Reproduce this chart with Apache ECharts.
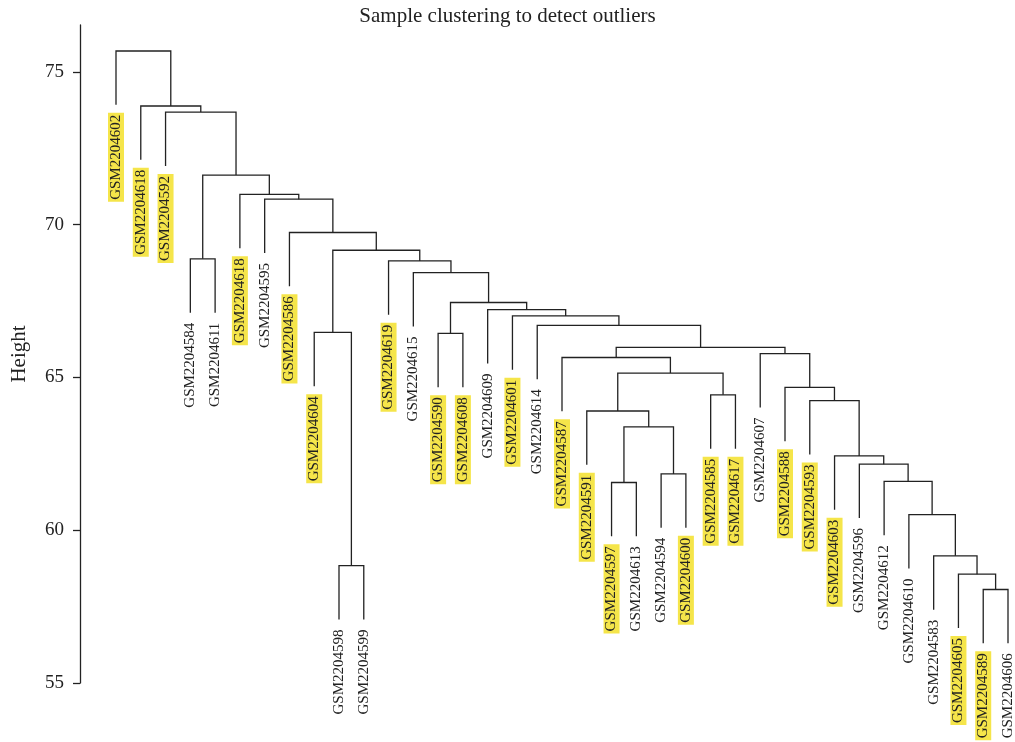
<!DOCTYPE html>
<html>
<head>
<meta charset="utf-8">
<title>Sample clustering to detect outliers</title>
<script src="https://cdn.jsdelivr.net/npm/echarts@6/dist/echarts.min.js"></script>
<style>
  html, body { margin: 0; padding: 0; background: #fff; }
  #chart { width: 1015px; height: 742px; }
</style>
</head>
<body>
<div id="chart"></div>
<script>
// Leaf order along the bottom of the dendrogram
const leafNames = [
  'GSM2204602', 'GSM2204618', 'GSM2204592', 'GSM2204584', 'GSM2204611',
  'GSM2204618', 'GSM2204595', 'GSM2204586', 'GSM2204604', 'GSM2204598',
  'GSM2204599', 'GSM2204619', 'GSM2204615', 'GSM2204590', 'GSM2204608',
  'GSM2204609', 'GSM2204601', 'GSM2204614', 'GSM2204587', 'GSM2204591',
  'GSM2204597', 'GSM2204613', 'GSM2204594', 'GSM2204600', 'GSM2204585',
  'GSM2204617', 'GSM2204607', 'GSM2204588', 'GSM2204593', 'GSM2204603',
  'GSM2204596', 'GSM2204612', 'GSM2204610', 'GSM2204583', 'GSM2204605',
  'GSM2204589', 'GSM2204606'
];
// 1 = sample label is highlighted
const leafHighlight = [
  1, 1, 1, 0, 0, 1, 0, 1, 1, 0, 0, 1, 0, 1, 1, 0, 1, 0, 1, 1,
  1, 0, 0, 1, 1, 1, 0, 1, 1, 1, 0, 0, 0, 0, 1, 1, 0
];

// hclust-style merge table: negative = leaf (-(index+1)), positive = earlier merge step (1-based)
const mergeLeft = [
  -36, -35, -10, -34, -33, -21, -32, -23, -31, -30,
    6, -20, -29, -25, -28,  12, -19, -27,  17, -14,
   -9, -18, -17, -16,  20, -13, -12,  -4,  21,  -8,
   -7,  -6,  28,  -3,  -2,  -1
];
const mergeRight = [
  -37,   1, -11,   2,   4, -22,   5, -24,   7,   9,
    8,  11,  10, -26,  13,  14,  16,  15,  18, -15,
    3,  19,  22,  23,  24,  25,  26,  -5,  27,  29,
   30,  31,  32,  33,  34,  35
];
const mergeHeight = [
  58.06, 58.56, 58.84, 59.16, 60.51, 61.56, 61.60, 61.84, 62.16, 62.43,
  63.38, 63.90, 64.24, 64.43, 64.67, 65.14, 65.65, 65.78, 65.98, 66.44,
  66.47, 66.70, 67.01, 67.22, 67.45, 68.43, 68.81, 68.88, 69.16, 69.74,
  70.83, 70.99, 71.62, 73.68, 73.88, 75.68
];

const yTicks = [55, 60, 65, 70, 75];

// Leaves hang below their parent by 10% of the height range
const hang = 0.1 * (Math.max(...mergeHeight) - Math.min(...mergeHeight));

// Positions of every node in data units (x = leaf slot, y = height)
const nodeX = [];
const leafX = leafNames.map((_, i) => i);
const leafTop = new Array(leafNames.length).fill(0);
function childX(ref) { return ref < 0 ? leafX[-ref - 1] : nodeX[ref - 1]; }
mergeHeight.forEach((h, k) => {
  nodeX[k] = (childX(mergeLeft[k]) + childX(mergeRight[k])) / 2;
  [mergeLeft[k], mergeRight[k]].forEach(ref => {
    if (ref < 0) leafTop[-ref - 1] = h - hang;
  });
});
function childY(ref) { return ref < 0 ? leafTop[-ref - 1] : mergeHeight[ref - 1]; }

const branchData = mergeHeight.map((h, k) => [
  childX(mergeLeft[k]), childY(mergeLeft[k]),
  childX(mergeRight[k]), childY(mergeRight[k]), h
]);
const leafData = leafNames.map((name, i) => [leafX[i], leafTop[i], leafHighlight[i]]);

const serif = '"Liberation Serif", "DejaVu Serif", serif';
const chart = echarts.init(document.getElementById('chart'), null, { renderer: 'canvas' });

chart.setOption({
  backgroundColor: '#ffffff',
  animation: false,
  title: {
    text: 'Sample clustering to detect outliers',
    left: 'center',
    top: 1,
    textStyle: { fontFamily: serif, fontWeight: 'normal', fontSize: 21, color: '#222' }
  },
  grid: { left: 116, right: 7, top: 25, bottom: 59, containLabel: false },
  xAxis: {
    type: 'value', min: 0, max: leafNames.length - 1,
    show: false
  },
  yAxis: {
    type: 'value', min: 55, max: 76.53,
    offset: 36,
    name: 'Height',
    nameLocation: 'middle',
    nameGap: 50,
    nameTextStyle: { fontFamily: serif, fontSize: 21, color: '#222' },
    splitLine: { show: false },
    axisLine: { show: true, onZero: false, lineStyle: { color: '#222', width: 1.3 } },
    axisTick: { show: true, length: 7, customValues: yTicks, lineStyle: { color: '#222', width: 1.3 } },
    axisLabel: {
      customValues: yTicks, margin: 16,
      fontFamily: serif, fontSize: 19, color: '#222'
    }
  },
  series: [
    {
      name: 'branches',
      type: 'custom',
      clip: false,
      data: branchData,
      renderItem: function (params, api) {
        const a = api.coord([api.value(0), api.value(1)]);
        const top1 = api.coord([api.value(0), api.value(4)]);
        const top2 = api.coord([api.value(2), api.value(4)]);
        const b = api.coord([api.value(2), api.value(3)]);
        return {
          type: 'polyline',
          shape: { points: [a, top1, top2, b] },
          style: { stroke: '#222', lineWidth: 1.3, fill: null }
        };
      }
    },
    {
      name: 'leaves',
      type: 'custom',
      clip: false,
      data: leafData,
      renderItem: function (params, api) {
        const p = api.coord([api.value(0), api.value(1)]);
        const hl = api.value(2) === 1;
        return {
          type: 'text',
          x: p[0],
          y: p[1] + 8,
          rotation: Math.PI / 2,
          style: {
            text: leafNames[params.dataIndex],
            font: '15px ' + serif,
            fill: '#222',
            align: 'right',
            verticalAlign: 'middle',
            backgroundColor: hl ? '#f5e54a' : 'transparent',
            padding: [1, 2, 0, 2]
          }
        };
      }
    }
  ]
});
</script>
</body>
</html>
